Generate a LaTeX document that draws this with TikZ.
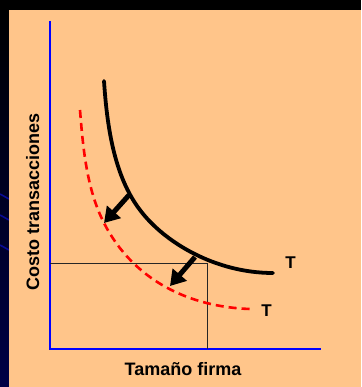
\documentclass[tikz,border=0pt]{standalone}
\usepackage{fontspec}
\setmainfont{Liberation Sans}
\usetikzlibrary{arrows.meta}
\definecolor{peach}{RGB}{255,197,138}
\definecolor{navy}{RGB}{0,0,70}
\definecolor{streak}{RGB}{10,10,150}
\definecolor{axisblue}{RGB}{0,0,255}
\tikzset{
  axisline/.style={draw=axisblue,line width=2.4pt},
  curveT/.style={draw=black,line width=3.8pt,line cap=round},
  curveTnew/.style={draw=red,line width=2.6pt,dash pattern=on 8pt off 5pt},
  guide/.style={draw=black!85,line width=0.9pt},
  shiftarrow/.style={draw=black,line width=5pt,-{Triangle[length=15pt,width=18pt]}},
  lbl/.style={font=\fontsize{18}{20}\selectfont\bfseries,inner sep=0pt},
  tlbl/.style={font=\fontsize{17}{19}\selectfont\bfseries,inner sep=0pt,anchor=base}
}
\begin{document}
\begin{tikzpicture}[x=1pt,y=-1pt]
\useasboundingbox (0,0) rectangle (361,387);
% background
\fill[black] (0,0) rectangle (361,387);
\shade[top color=black,bottom color=navy] (0,10) rectangle (9,387);
\foreach \yy in {197,218,248}{
  \draw[streak,line width=1.6pt] (0,\yy-3) -- (9,\yy+2);
}
\fill[peach] (9,10) rectangle (361,387);
% axes
\coordinate (top) at (50,21);
\coordinate (orig) at (50,349);
\coordinate (xend) at (321,349);
\draw[axisline] (top) -- (orig) -- (xend);
% guide lines
\coordinate (gy) at (50,263);
\coordinate (gp) at (207,263);
\coordinate (gx) at (207,349);
\draw[guide] (gy) -- (gp) -- (gx);
% curves
\coordinate (r0) at (80,110);
\coordinate (r1) at (104,223);
\coordinate (r2) at (250,309);
\draw[curveTnew] (r0) .. controls (83,148) and (86.7,189.2) .. (r1)
  .. controls (133.6,280.9) and (190,307) .. (r2);
\coordinate (b0) at (104,81);
\coordinate (b1) at (140,210);
\coordinate (b2) at (273,273);
\draw[curveT] (b0) .. controls (107,126) and (114,176) .. (b1)
  .. controls (164,242) and (215,273) .. (b2);
% shift arrows
\coordinate (a1s) at (129,195);
\coordinate (a1e) at (104,223);
\coordinate (a2s) at (195,257);
\coordinate (a2e) at (170,286);
\draw[shiftarrow] (a1s) -- (a1e);
\draw[shiftarrow] (a2s) -- (a2e);
% labels
\node[tlbl] (t1) at (290.5,268) {T};
\node[tlbl] (t2) at (266.5,316) {T};
\node[lbl,anchor=base] (xl) at (183,375) {Tamaño firma};
\node[lbl,anchor=base,rotate=90] (yl) at (39,202) {Costo transacciones};
\end{tikzpicture}
\end{document}
